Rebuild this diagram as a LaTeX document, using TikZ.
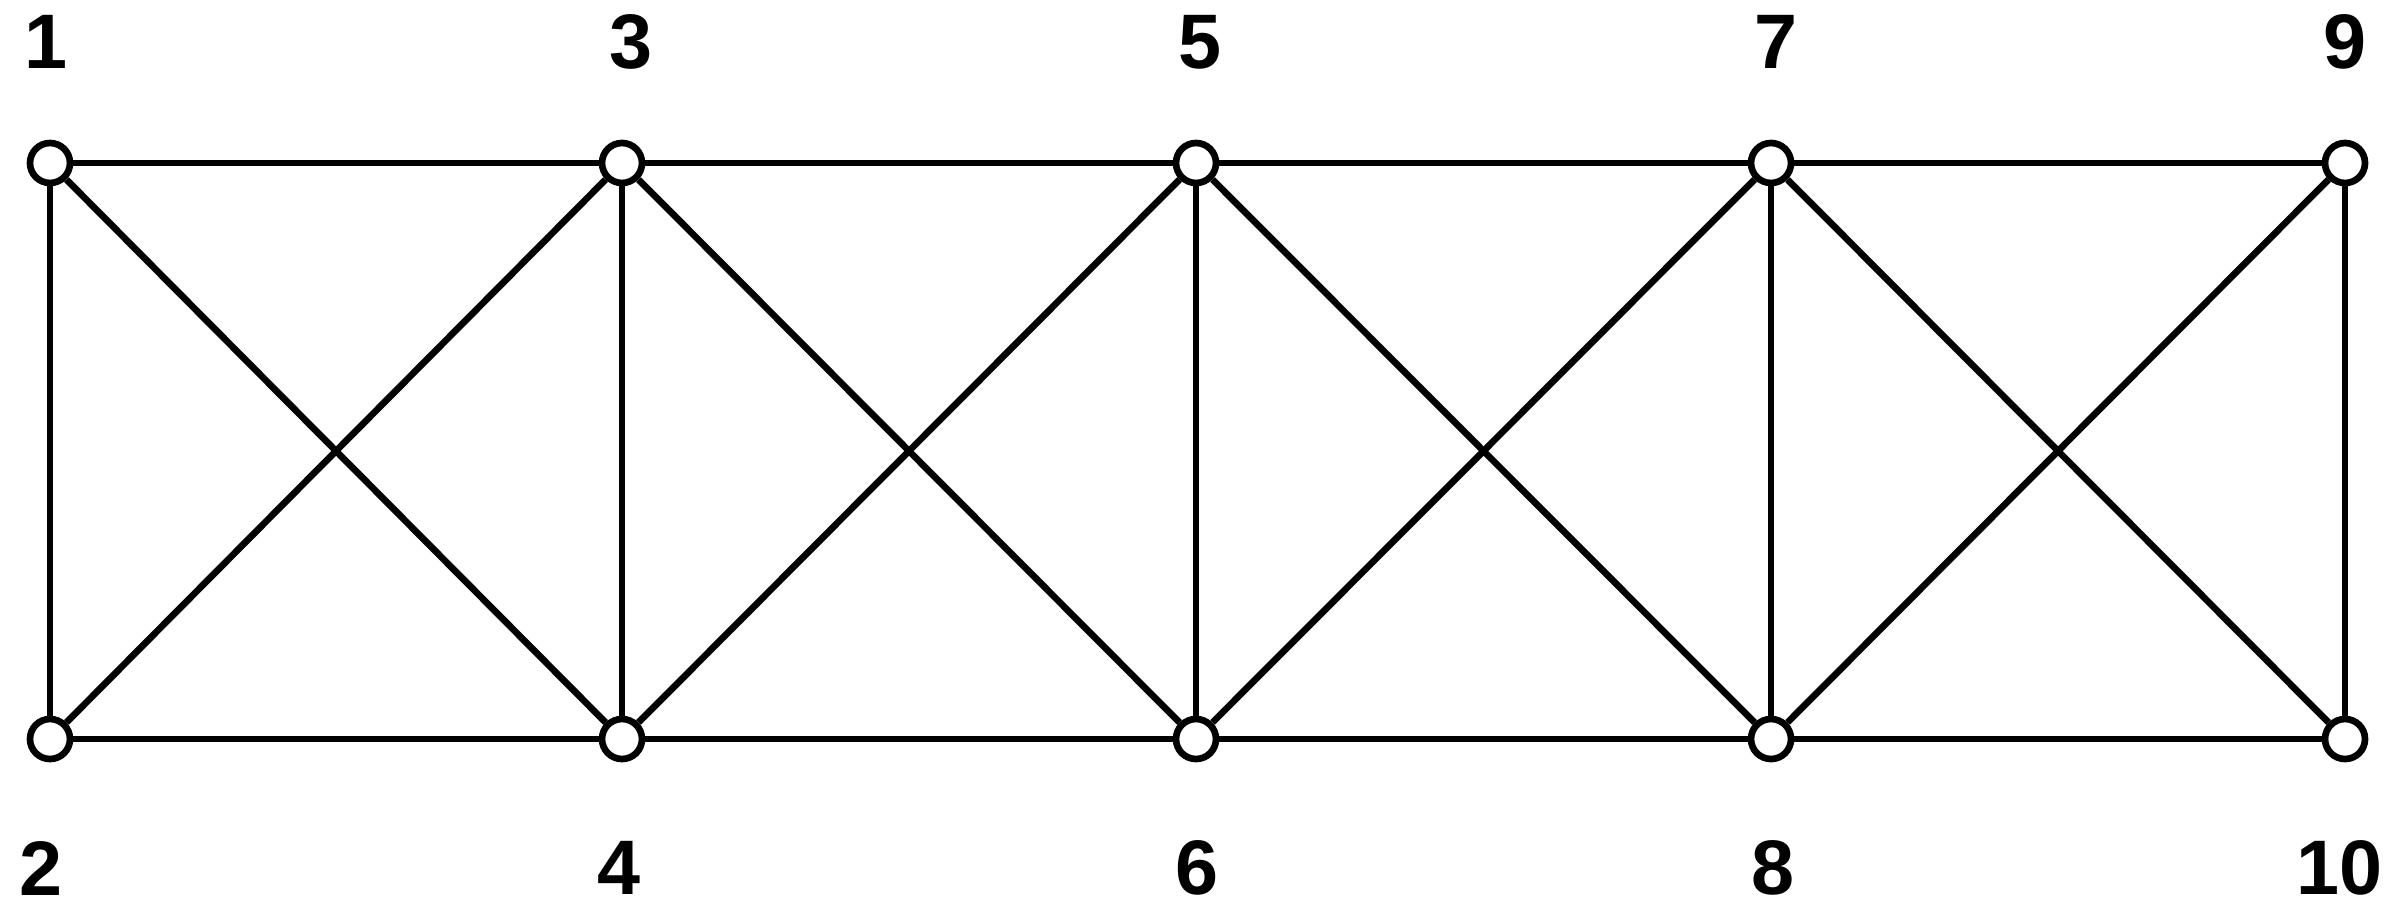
\documentclass[tikz,border=0pt]{standalone}
\usepackage{fontspec}
\setmainfont{Liberation Sans}
\usetikzlibrary{positioning}

\begin{document}
\begin{tikzpicture}[
    joint/.style={circle,draw,fill=white,line width=1.9pt,minimum size=0.40cm,inner sep=0pt},
    num/.style={font=\fontsize{22}{26}\selectfont\bfseries},
    bar/.style={line width=1.9pt}
]
\useasboundingbox (0,0) rectangle (24,9.17);

% Joints
\node[joint] (n1) at (0.50,7.54) {};
\node[joint] (n2) at (0.50,1.78) {};
\node[joint] (n3) at (6.22,7.54) {};
\node[joint] (n4) at (6.22,1.78) {};
\node[joint] (n5) at (11.96,7.54) {};
\node[joint] (n6) at (11.96,1.78) {};
\node[joint] (n7) at (17.71,7.54) {};
\node[joint] (n8) at (17.71,1.78) {};
\node[joint] (n9) at (23.45,7.54) {};
\node[joint] (n10) at (23.45,1.78) {};

% Bars
\draw[bar] (n1) -- (n3) -- (n5) -- (n7) -- (n9);
\draw[bar] (n2) -- (n4) -- (n6) -- (n8) -- (n10);
\draw[bar] (n1) -- (n2);
\draw[bar] (n3) -- (n4);
\draw[bar] (n5) -- (n6);
\draw[bar] (n7) -- (n8);
\draw[bar] (n9) -- (n10);
\draw[bar] (n1) -- (n4);
\draw[bar] (n2) -- (n3);
\draw[bar] (n3) -- (n6);
\draw[bar] (n4) -- (n5);
\draw[bar] (n5) -- (n8);
\draw[bar] (n6) -- (n7);
\draw[bar] (n7) -- (n10);
\draw[bar] (n8) -- (n9);

% Joint numbers
\node[num] (l1) at (0.46,8.75) {1};
\node[num] (l3) at (6.31,8.75) {3};
\node[num] (l5) at (12.00,8.75) {5};
\node[num] (l7) at (17.76,8.75) {7};
\node[num] (l9) at (23.45,8.75) {9};
\node[num] (l2) at (0.41,0.49) {2};
\node[num] (l4) at (6.19,0.49) {4};
\node[num] (l6) at (11.97,0.49) {6};
\node[num] (l8) at (17.73,0.49) {8};
\node[num] (l10) at (23.39,0.49) {10};

\end{tikzpicture}
\end{document}
